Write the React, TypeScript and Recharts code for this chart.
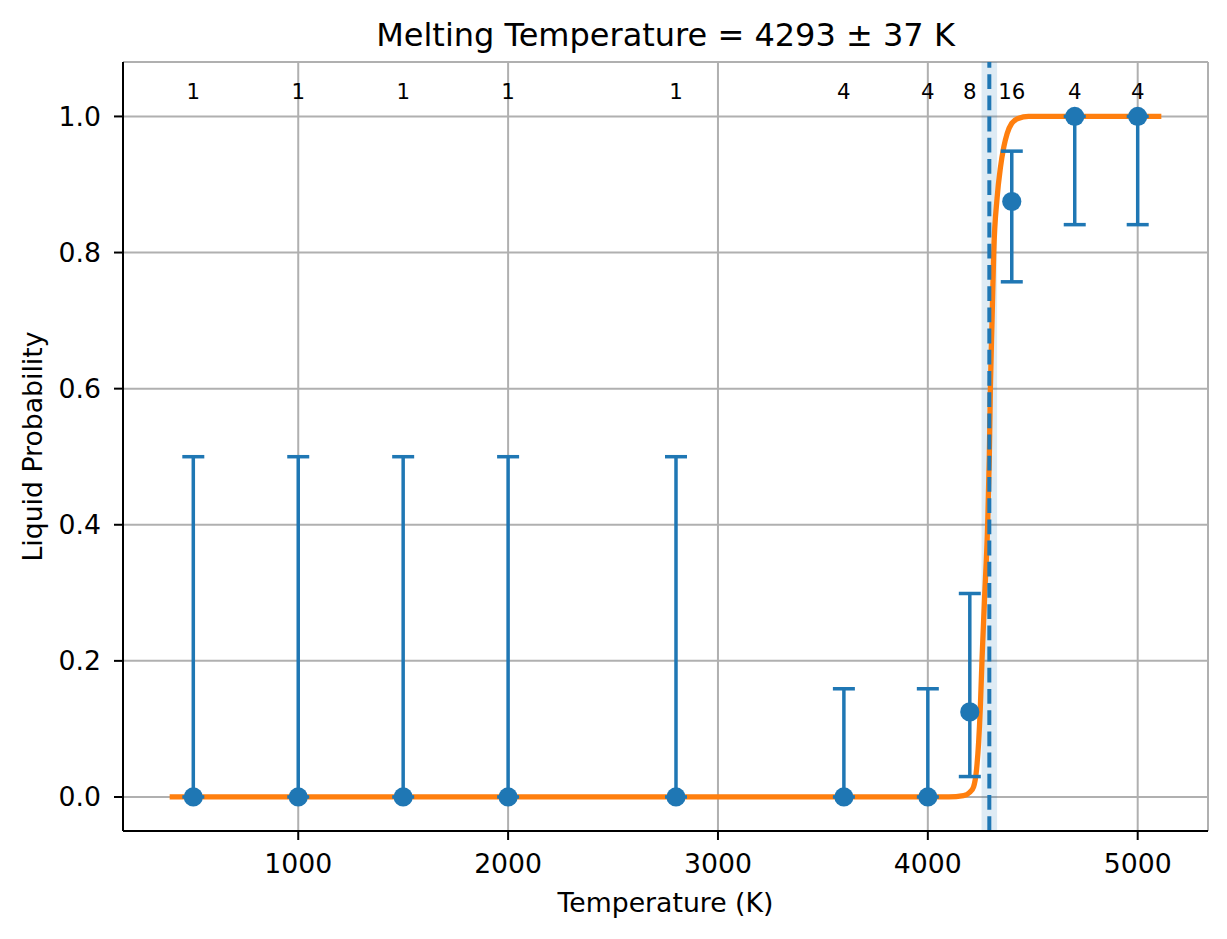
import React from 'react';
import {
  ComposedChart,
  XAxis,
  YAxis,
  CartesianGrid,
  Scatter,
  Line,
  ErrorBar,
  ReferenceLine,
  ReferenceArea,
} from 'recharts';

// Measured points
const TEMPS = [500, 1000, 1500, 2000, 2800, 3600, 4000, 4200, 4400, 4700, 5000];
const PROBS = [0, 0, 0, 0, 0, 0, 0, 0.125, 0.875, 1, 1];
const CI_LOW = [0, 0, 0, 0, 0, 0, 0, 0.03, 0.757, 0.841, 0.841];
const CI_HIGH = [0.5, 0.5, 0.5, 0.5, 0.5, 0.159, 0.159, 0.299, 0.949, 1, 1];
const COUNTS = [1, 1, 1, 1, 1, 4, 4, 8, 16, 4, 4];

// Fitted curve
const FIT_T = [400, 4100, 4170, 4200, 4218, 4232, 4242, 4250, 4258, 4270, 4285, 4293, 4298, 4306, 4314, 4330, 4346, 4362, 4378, 4400, 4430, 4480, 5100];
const FIT_P = [0, 0, 0.002, 0.007, 0.015, 0.04, 0.08, 0.13, 0.2, 0.29, 0.4, 0.5, 0.6, 0.7, 0.8, 0.88, 0.925, 0.955, 0.975, 0.99, 0.997, 1.0, 1.0];

const TM = 4293;
const TM_ERR = 37;

const X_TICKS = [1000, 2000, 3000, 4000, 5000];
const Y_TICKS = [0, 0.2, 0.4, 0.6, 0.8, 1.0];
const X_DOMAIN: [number, number] = [165, 5335];
const Y_DOMAIN: [number, number] = [-0.05, 1.08];
const COUNT_LABEL_Y = 1.026;

const TITLE = `Melting Temperature = ${TM} ± ${TM_ERR} K`;
const X_LABEL = 'Temperature (K)';
const Y_LABEL = 'Liquid Probability';

const BLUE = '#1f77b4';
const ORANGE = '#ff7f0e';
const FONT = '"DejaVu Sans", sans-serif';

const points = TEMPS.map((T, i) => ({
  T,
  p: PROBS[i],
  err: [PROBS[i] - CI_LOW[i], CI_HIGH[i] - PROBS[i]],
}));
const fit = FIT_T.map((T, i) => ({ T, p: FIT_P[i] }));
const countLabels = TEMPS.map((T, i) => ({ T, ly: COUNT_LABEL_Y, n: COUNTS[i] }));

const W = 1227;
const H = 939;

export default function App() {
  return (
    <div style={{ position: 'absolute', left: 0, top: 0, width: W, height: H, fontFamily: FONT, background: '#fff' }}>
      <ComposedChart
        width={W}
        height={H}
        margin={{ top: 62, right: 19, bottom: 0, left: 0 }}
        style={{ fontFamily: FONT }}
      >
        <CartesianGrid stroke="#b0b0b0" strokeWidth={2} />
        <XAxis
          dataKey="T"
          type="number"
          domain={X_DOMAIN}
          allowDataOverflow
          ticks={X_TICKS}
          height={108}
          tickSize={9}
          tickMargin={14}
          axisLine={{ stroke: '#000', strokeWidth: 2 }}
          tickLine={{ stroke: '#000', strokeWidth: 2 }}
          tick={{ fill: '#000', fontSize: 26.7, fontFamily: FONT }}
        />
        <XAxis
          xAxisId="top"
          orientation="top"
          dataKey="T"
          type="number"
          domain={X_DOMAIN}
          allowDataOverflow
          height={0}
          tick={false}
          tickLine={false}
          axisLine={{ stroke: '#000', strokeWidth: 2 }}
        />
        <YAxis
          type="number"
          domain={Y_DOMAIN}
          allowDataOverflow
          ticks={Y_TICKS}
          width={123}
          tickSize={9}
          tickMargin={13}
          tickFormatter={(v: number) => v.toFixed(1)}
          axisLine={{ stroke: '#000', strokeWidth: 2 }}
          tickLine={{ stroke: '#000', strokeWidth: 2 }}
          tick={{ fill: '#000', fontSize: 26.7, fontFamily: FONT }}
        />
        <YAxis
          yAxisId="right"
          orientation="right"
          type="number"
          domain={Y_DOMAIN}
          allowDataOverflow
          width={0}
          tick={false}
          tickLine={false}
          axisLine={{ stroke: '#000', strokeWidth: 2 }}
        />
        <ReferenceArea
          x1={TM - TM_ERR}
          x2={TM + TM_ERR}
          y1={Y_DOMAIN[0]}
          y2={Y_DOMAIN[1]}
          fill={BLUE}
          fillOpacity={0.15}
          stroke="none"
        />
        <Line
          data={fit}
          dataKey="p"
          type="monotone"
          stroke={ORANGE}
          strokeWidth={5.3}
          strokeLinecap="square"
          dot={false}
          activeDot={false}
          isAnimationActive={false}
        />
        <ReferenceLine
          x={TM}
          stroke={BLUE}
          strokeWidth={4}
          strokeDasharray="14.8 6.4"
        />
        <Scatter
          data={points}
          dataKey="p"
          fill={BLUE}
          isAnimationActive={false}
          shape={(props: any) => <circle cx={props.cx} cy={props.cy} r={9.6} fill={BLUE} />}
        >
          <ErrorBar dataKey="err" direction="y" width={11} stroke={BLUE} strokeWidth={3.5} />
        </Scatter>
        <Scatter
          data={countLabels}
          dataKey="ly"
          isAnimationActive={false}
          shape={(props: any) => (
            <text
              x={props.cx}
              y={props.cy}
              textAnchor="middle"
              fontSize={21.3}
              fontFamily={FONT}
              fill="#000"
            >
              {props.payload.n}
            </text>
          )}
        />
      </ComposedChart>
      <svg
        width={W}
        height={H}
        style={{ position: 'absolute', left: 0, top: 0, pointerEvents: 'none' }}
      >
        <text x={665.5} y={46} textAnchor="middle" fontSize={32} fontFamily={FONT} fill="#000">
          {TITLE}
        </text>
        <text x={665.5} y={912} textAnchor="middle" fontSize={26.7} fontFamily={FONT} fill="#000">
          {X_LABEL}
        </text>
        <text
          x={41.5}
          y={446.5}
          transform="rotate(-90 41.5 446.5)"
          textAnchor="middle"
          fontSize={26.7}
          fontFamily={FONT}
          fill="#000"
        >
          {Y_LABEL}
        </text>
      </svg>
    </div>
  );
}
